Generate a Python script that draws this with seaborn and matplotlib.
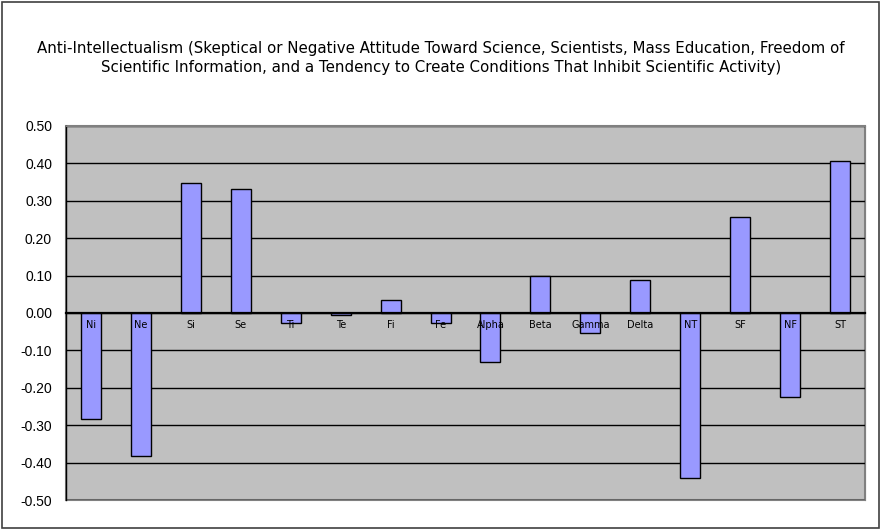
import numpy as np
import pandas as pd
import seaborn as sns
import matplotlib.pyplot as plt
from matplotlib.ticker import MultipleLocator, FixedLocator, FormatStrFormatter

# data
types = ['Ni', 'Ne', 'Si', 'Se', 'Ti', 'Te', 'Fi', 'Fe', 'Alpha', 'Beta',
         'Gamma', 'Delta', 'NT', 'SF', 'NF', 'ST']
scores = [-0.283, -0.382, 0.348, 0.332, -0.027, -0.005, 0.035, -0.027, -0.131, 0.099,
          -0.053, 0.088, -0.441, 0.257, -0.225, 0.406]
title = ('Anti-Intellectualism (Skeptical or Negative Attitude Toward Science, Scientists, Mass Education, Freedom of\n'
         'Scientific Information, and a Tendency to Create Conditions That Inhibit Scientific Activity)')

df = pd.DataFrame({'type': types, 'score': scores})

sns.set_style('white')
plt.rcParams['font.family'] = ['DejaVu Sans']
plt.rcParams['text.color'] = 'black'
plt.rcParams['xtick.color'] = 'black'
plt.rcParams['ytick.color'] = 'black'
plt.rcParams['xtick.labelcolor'] = 'black'
plt.rcParams['ytick.labelcolor'] = 'black'

fig = plt.figure(figsize=(8.82, 5.31), dpi=100)
ax = fig.add_axes([66 / 882, 1 - 500 / 531, 799 / 882, 374 / 531])

sns.barplot(data=df, x='type', y='score', order=types, color='#9999FF', saturation=1,
            width=0.4, edgecolor='black', linewidth=1, ax=ax)

ax.set_facecolor('#C0C0C0')
ax.set_xlim(-0.5, len(types) - 0.5)
ax.set_ylim(-0.5, 0.5)
ax.set_xlabel('')
ax.set_ylabel('')

# y axis
ax.yaxis.set_major_locator(MultipleLocator(0.1))
ax.yaxis.set_major_formatter(FormatStrFormatter('%.2f'))
ax.tick_params(axis='y', direction='out', length=4, width=1, color='black', pad=6)
for lab in ax.get_yticklabels():
    lab.set_fontfamily('Liberation Sans')
    lab.set_fontsize(10)

# grid behind the bars, not at the edges or zero
ax.set_axisbelow(True)
ax.grid(axis='y', color='black', linewidth=1)
ax.grid(axis='x', visible=False)
glines = ax.get_ygridlines()
for i, g in enumerate(glines):
    if i in (0, len(glines) - 1):
        g.set_visible(False)
ax.xaxis.set_zorder(3)

# x axis sits on zero, labels just below
ax.spines['bottom'].set_position(('data', 0))
ax.spines['bottom'].set_color('black')
ax.spines['bottom'].set_linewidth(1.6)
ax.spines['bottom'].set_zorder(3)
ax.spines['left'].set_color('black')
ax.spines['left'].set_linewidth(1)
ax.spines['top'].set_color('#808080')
ax.spines['right'].set_color('#808080')
ax.patch.set_edgecolor('#808080')
ax.patch.set_linewidth(1.5)

ax.xaxis.set_minor_locator(FixedLocator(np.arange(len(types) - 1) + 0.5))
ax.tick_params(axis='x', which='major', length=0, pad=5, labelsize=7)
ax.tick_params(axis='x', which='minor', direction='out', length=4, width=1, color='black')

fig.text(0.5, 1 - 58 / 531, title, ha='center', va='center', fontsize=10.8, linespacing=1.3)

# outer chart border
fig.patches.append(plt.Rectangle((2 / 882, 3 / 531), 877 / 882, 526 / 531, transform=fig.transFigure,
                                 fill=False, edgecolor='#404040', linewidth=1.2))

fig.savefig('out.png', dpi=100)
